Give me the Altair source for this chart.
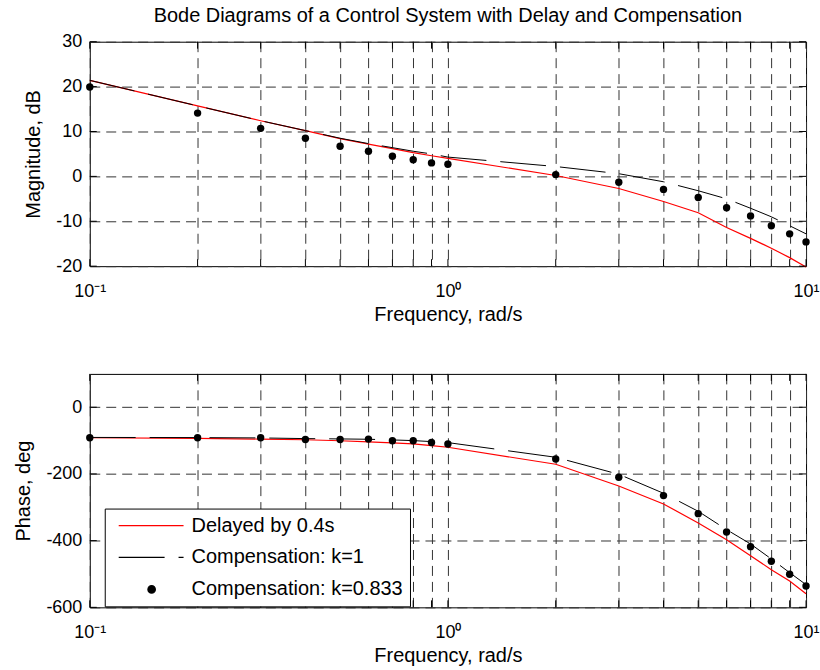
import altair as alt
import pandas as pd

# Frequencies at which every response is evaluated (rad/s)
freq = [0.1, 0.2, 0.3, 0.4, 0.5, 0.6, 0.7, 0.8, 0.9, 1, 2, 3, 4, 5, 6, 7, 8, 9, 10]

series_names = ["Delayed by 0.4s", "Compensation: k=1", "Compensation: k=0.833"]
series_colors = ["#ff0000", "#000000", "#000000"]

# Magnitude, dB
mag_delayed = [21.4, 15.7, 12.4, 10.2, 8.4, 7.2, 6.2, 5.3, 4.6, 4.0,
               0.2, -2.7, -5.6, -8.1, -11.4, -13.8, -16.0, -18.1, -20.2]
mag_k1 = [21.4, 15.7, 12.4, 10.2, 8.5, 7.3, 6.4, 5.6, 5.0, 4.3,
          2.2, 0.6, -1.2, -3.2, -5.0, -7.1, -9.0, -11.0, -12.8]
mag_k0833 = [19.9, 14.1, 10.7, 8.5, 6.7, 5.6, 4.5, 3.7, 3.0, 2.7,
             0.4, -1.3, -2.9, -4.7, -7.0, -8.8, -11.0, -12.8, -14.6]

# Phase, deg
phase_delayed = [-91.5, -93.5, -95.5, -97.5, -100.5, -104, -107, -110, -115, -120,
                 -171, -236, -290, -347, -397, -445, -487, -521, -559]
phase_k1 = [-90.5, -91, -92, -94, -95, -96, -98, -100, -103, -106,
            -150, -201, -258, -312, -367, -410, -455, -496, -532]
phase_k0833 = [-91.5, -91.5, -91.5, -96.5, -96.5, -95.5, -100.5, -100.5, -105.5, -110.4,
               -155, -210, -265, -319, -374, -418, -462, -501, -536]

mag_ticks = [-20, -10, 0, 10, 20, 30]
phase_ticks = [-600, -400, -200, 0]
decade_values = [0.1, 1, 10]
decade_labels = ["10⁻¹", "10⁰", "10¹"]

rows = []
for name, mags, phases in zip(series_names,
                              [mag_delayed, mag_k1, mag_k0833],
                              [phase_delayed, phase_k1, phase_k0833]):
    for f, m, p in zip(freq, mags, phases):
        rows.append({"freq": f, "series": name, "mag": m, "phase": p})
df = pd.DataFrame(rows)

W = 718
FONT = "Liberation Sans"

label_expr = "".join(
    f"abs(datum.value - {v}) < {v * 1e-6} ? '{t}' : " for v, t in zip(decade_values, decade_labels)
) + "''"

x_enc = alt.X(
    "freq:Q",
    scale=alt.Scale(type="log", domain=[0.1, 10], nice=False),
    axis=alt.Axis(
        values=freq, labelExpr=label_expr, title="Frequency, rad/s",
        grid=True, gridDash=[10, 6], gridColor="#333333", gridWidth=1,
        ticks=False, domain=False, labelPadding=16, labelFlush=False,
        labelOverlap=False, labelFontSize=18, titleFontSize=20,
        titleFontWeight="normal", titlePadding=4, labelColor="black", titleColor="black",
    ),
)


# Legend symbol outlines (path units are 5 px with symbolSize=100):
# a solid sample line, a dashed sample line and a dot built from rings.
def ring(cx, r):
    return f"M{cx - r},0A{r},{r},0,1,1,{cx + r},0A{r},{r},0,1,1,{cx - r},0Z"


SOLID_SAMPLE = "M-0.6,0H12.4"
DASHED_SAMPLE = "M-0.6,0H8.6M11.4,0H12.4"
DOT_SAMPLE = "".join(ring(6, r) for r in (0.75, 0.5, 0.25, 0.05))
legend_shapes = [SOLID_SAMPLE, DASHED_SAMPLE, DOT_SAMPLE]

phase_legend = alt.Legend(
    title=None, orient="none", legendX=15, legendY=135,
    fillColor="white", strokeColor="black", padding=7, cornerRadius=0,
    labelFontSize=20, labelFont=FONT, labelColor="black", labelOffset=60, labelLimit=0,
    rowPadding=12, symbolSize=100, symbolStrokeWidth=1.2, symbolOpacity=1,
)


def panel(field, title, domain, ticks, height, legend):
    y_enc = alt.Y(
        f"{field}:Q",
        scale=alt.Scale(domain=domain, nice=False, zero=False),
        axis=alt.Axis(
            values=ticks, title=title, grid=True, gridDash=[10, 6],
            gridColor="#333333", gridWidth=1, ticks=False, domain=False,
            labelPadding=8, labelFontSize=18, titleFontSize=20, labelExpr="'' + datum.value",
            titleFontWeight="normal", titlePadding=12, labelColor="black", titleColor="black",
        ),
    )
    color_scale = alt.Scale(domain=series_names, range=series_colors)
    color = alt.Color("series:N", scale=color_scale, legend=legend)

    base = alt.Chart(df)
    red = base.transform_filter(alt.datum.series == series_names[0]).mark_line(
        strokeWidth=1.2, clip=False
    ).encode(x=x_enc, y=y_enc, color=color)
    black = base.transform_filter(alt.datum.series == series_names[1]).mark_line(
        strokeWidth=1, strokeDash=[46, 14]
    ).encode(x=x_enc, y=y_enc, color=color)
    dots = base.transform_filter(alt.datum.series == series_names[2]).mark_circle(
        size=55, opacity=1
    ).encode(x=x_enc, y=y_enc, color=color)

    # short inward tick marks on all four sides of the frame
    xt = alt.Chart(pd.DataFrame({"freq": freq})).mark_rule(color="black", strokeWidth=1)
    yt = alt.Chart(pd.DataFrame({field: ticks})).mark_rule(color="black", strokeWidth=1)
    layers = [
        red, black, dots,
        xt.encode(x=x_enc, y=alt.value(height), y2=alt.value(height - 7)),
        xt.encode(x=x_enc, y=alt.value(0), y2=alt.value(7)),
        yt.encode(y=y_enc, x=alt.value(0), x2=alt.value(7)),
        yt.encode(y=y_enc, x=alt.value(W), x2=alt.value(W - 7)),
    ]
    if legend is not None:
        # legend-only layer: no rows, the series domain supplies the entries
        key = base.transform_filter("false").mark_point(filled=False, opacity=1).encode(
            x=x_enc, y=y_enc, color=color,
            shape=alt.Shape("series:N",
                            scale=alt.Scale(domain=series_names, range=legend_shapes),
                            legend=legend),
        )
        layers.append(key)
    return alt.layer(*layers).properties(width=W, height=height)


top = panel("mag", "Magnitude, dB", [-20, 30], mag_ticks, 225, None).properties(
    title=alt.Title(
        "Bode Diagrams of a Control System with Delay and Compensation",
        fontSize=20, fontWeight="normal", font=FONT, color="black",
        anchor="middle", frame="group", offset=7,
    )
)
bottom = panel("phase", "Phase, deg", [-600, 100], phase_ticks, 234, phase_legend)

chart = alt.vconcat(top, bottom, spacing=48).resolve_legend(
    color="independent", shape="independent"
).properties(
    padding={"left": 13, "top": 4, "right": 0, "bottom": 0}
).configure(font=FONT).configure_view(stroke="black", strokeWidth=1).configure_axis(
    labelFont=FONT, titleFont=FONT
)

chart.save("out.html", embed_options={"renderer": "svg", "actions": False})
